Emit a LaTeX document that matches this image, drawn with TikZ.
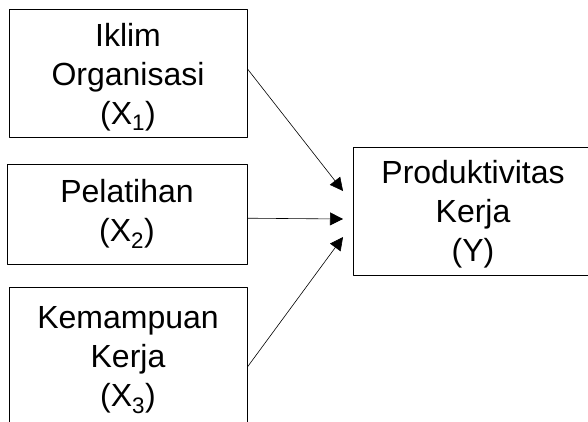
\documentclass[tikz,border=0pt]{standalone}
\usepackage{fontspec}
\setmainfont{Liberation Sans}
\usetikzlibrary{arrows.meta}
\begin{document}
\begin{tikzpicture}[x=1pt, y=-1pt, line join=round, >={Triangle[length=13pt,width=13pt]},
    box/.style={draw, line width=.8pt, align=center, inner sep=0pt, font=\fontsize{32}{39}\selectfont}]
    \useasboundingbox (0,0) rectangle (588,421);
    \clip (0,0) rectangle (588,421);
    \node[box, minimum width=238pt, minimum height=128pt] (x1) at (128,73) {\rule{0pt}{31pt}Iklim\\Organisasi\\(X\textsubscript{1})};
    \node[box, minimum width=240pt, minimum height=100pt] (x2) at (127,214) {Pelatihan\\(X\textsubscript{2})};
    \node[box, minimum width=238pt, minimum height=160pt] (x3) at (128,367) {Kemampuan\\Kerja\\(X\textsubscript{3})\rule[-21pt]{0pt}{21pt}};
    \node[box, minimum width=240pt, minimum height=128pt] (y) at (473,211) {\rule{0pt}{29pt}Produktivitas\\Kerja\\(Y)};
    \coordinate (t1) at (343,191);
    \coordinate (t2) at (343,219);
    \coordinate (t3) at (343,237);
    \draw[->, line width=.6pt] (x1.2) -- (t1);
    \draw[->, line width=.6pt] (x2.-2) -- (t2);
    \draw[->, line width=.6pt] (x3.east) -- (t3);
\end{tikzpicture}
\end{document}
